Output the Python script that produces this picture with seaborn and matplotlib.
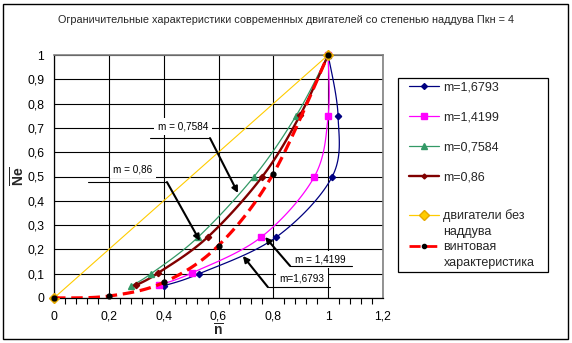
import numpy as np
import pandas as pd
import matplotlib
matplotlib.use("Agg")
import matplotlib.pyplot as plt
import seaborn as sns
from matplotlib.lines import Line2D
from matplotlib.patches import Rectangle
from matplotlib.ticker import MultipleLocator

# ---------------- data ----------------
n_16793 = [0.40, 0.53, 0.81, 1.015, 1.036, 1.0]
ne_16793 = [0.05, 0.10, 0.25, 0.50, 0.75, 1.0]
n_14199 = [0.383, 0.503, 0.755, 0.949, 1.0, 1.0]
ne_14199 = [0.053, 0.103, 0.25, 0.498, 0.75, 1.0]
n_07584 = [0.281, 0.354, 0.525, 0.73, 0.883, 1.0]
ne_07584 = [0.05, 0.10, 0.25, 0.50, 0.75, 1.0]
n_086 = [0.30, 0.38, 0.56, 0.76, 0.898, 1.0]
ne_086 = [0.053, 0.103, 0.25, 0.50, 0.753, 1.0]
n_free = [0.0, 1.0]
ne_free = [0.0, 1.0]
n_screw = [0.0, 0.2, 0.4, 0.6, 0.8, 1.0]
ne_screw = [0.0, 0.008, 0.064, 0.216, 0.512, 1.0]

series_labels = ["m=1,6793", "m=1,4199", "m=0,7584", "m=0,86",
                 "двигатели без", "наддува", "винтовая", "характеристика"]
x_ticks = [0.0, 0.2, 0.4, 0.6, 0.8, 1.0, 1.2]
x_tick_labels = ["0", "0,2", "0,4", "0,6", "0,8", "1", "1,2"]
y_ticks = [0.0, 0.1, 0.2, 0.3, 0.4, 0.5, 0.6, 0.7, 0.8, 0.9, 1.0]
y_tick_labels = ["0", "0,1", "0,2", "0,3", "0,4", "0,5", "0,6", "0,7", "0,8", "0,9", "1"]
title = "Ограничительные характеристики современных двигателей со степенью наддува Пкн = 4"
ann_texts = ["m = 0,7584", "m = 0,86", "m = 1,4199", "m=1,6793"]

# ---------------- style ----------------
sns.set_style("white")
plt.rcParams["font.family"] = ["Liberation Sans", "DejaVu Sans"]
plt.rcParams["mathtext.fontset"] = "custom"
plt.rcParams["mathtext.bf"] = "Liberation Sans:bold"
plt.rcParams["mathtext.rm"] = "Liberation Sans"

W, H = 572, 343
fig = plt.figure(figsize=(W / 100, H / 100), dpi=100)
ax = fig.add_axes([54 / W, 1 - 298 / H, (383 - 54) / W, (298 - 55) / H])


def smooth(x, y, n=24):
    """Excel-like smoothed line (uniform Catmull-Rom) through the points."""
    p = np.column_stack([x, y]).astype(float)
    P = np.vstack([p[0], p, p[-1]])
    out = []
    t = np.linspace(0, 1, n)[:, None]
    for i in range(len(p) - 1):
        p0, p1, p2, p3 = P[i], P[i + 1], P[i + 2], P[i + 3]
        seg = 0.5 * ((2 * p1) + (-p0 + p2) * t + (2 * p0 - 5 * p1 + 4 * p2 - p3) * t ** 2
                     + (-p0 + 3 * p1 - 3 * p2 + p3) * t ** 3)
        out.append(seg if i == 0 else seg[1:])
    s = np.vstack(out)
    return s[:, 0], s[:, 1]


specs = [
    (n_16793, ne_16793, "#000080", 0.9, "D", 3.2, "-", True),
    (n_14199, ne_14199, "#FF00FF", 0.9, "s", 4.0, "-", True),
    (n_07584, ne_07584, "#339966", 0.9, "^", 4.5, "-", True),
    (n_086, ne_086, "#800000", 1.7, "D", 3.2, "-", True),
    (n_free, ne_free, "#FFCC00", 0.8, "D", 5.0, "-", False),
]
for xs, ys, col, lw, mk, ms, ls, sm in specs:
    if sm:
        sx, sy = smooth(xs, ys)
    else:
        sx, sy = np.asarray(xs), np.asarray(ys)
    sns.lineplot(x=sx, y=sy, sort=False, estimator=None, color=col, lw=lw, ax=ax, zorder=3)
    ax.plot(xs, ys, ls="none", marker=mk, ms=ms, color=col,
            mec=("#E6A800" if col == "#FFCC00" else col), zorder=4, clip_on=False)

sx, sy = smooth(n_screw, ne_screw)
sns.lineplot(x=sx, y=sy, sort=False, estimator=None, color="#FF0000", lw=2.3, ax=ax, zorder=5,
             dashes=False)
ax.lines[-1].set_dashes((3.6, 1.8))
ax.plot(n_screw, ne_screw, ls="none", marker="o", ms=3.5, color="black", zorder=6, clip_on=False)

# ---------------- axes ----------------
ax.set_xlim(0, 1.2)
ax.set_ylim(0, 1.0)
ax.set_xticks(x_ticks)
ax.set_xticklabels(x_tick_labels)
ax.set_yticks(y_ticks)
ax.set_yticklabels(y_tick_labels)
ax.xaxis.set_minor_locator(MultipleLocator(0.04))
ax.tick_params(axis="both", which="major", direction="out", length=4, width=0.8,
               color="black", labelsize=8.7, labelcolor="black")
ax.tick_params(axis="x", which="major", pad=5)
ax.tick_params(axis="y", which="major", pad=3)
ax.tick_params(axis="x", which="minor", direction="out", length=4, width=0.8, color="black",
               bottom=True)
ax.grid(True, which="major", color="black", lw=0.8)
ax.set_axisbelow(True)
for s in ["left", "bottom"]:
    ax.spines[s].set_color("black")
    ax.spines[s].set_linewidth(0.9)
for s in ["top", "right"]:
    ax.spines[s].set_color("#808080")
    ax.spines[s].set_linewidth(1.2)
ax.set_xlabel(r"$\overline{\mathbf{n}}$", fontsize=10, labelpad=0)
ax.set_ylabel(r"$\overline{\mathbf{Ne}}$", fontsize=10, labelpad=0)

fig.text(286 / W, 1 - 20 / H, title, ha="center", va="center", fontsize=7.8)

# ---------------- annotations ----------------
# (text centre, underline start, underline end, leader start, arrow tip)
ann_pos = [
    ((0.470, 0.704), (0.350, 0.658), (0.569, 0.658), (0.569, 0.658), (0.671, 0.432)),
    ((0.288, 0.527), (0.124, 0.477), (0.412, 0.477), (0.412, 0.477), (0.532, 0.235)),
    ((0.970, 0.160), (0.861, 0.132), (1.087, 0.132), (0.861, 0.132), (0.770, 0.251)),
    ((0.904, 0.082), (0.780, 0.045), (1.007, 0.045), (0.780, 0.045), (0.689, 0.173)),
]
for txt, (tc, u0, u1, l0, tip) in zip(ann_texts, ann_pos):
    ax.text(tc[0], tc[1], txt, ha="center", va="center", fontsize=7.2, color="black",
            bbox=dict(fc="white", ec="none", pad=2.5), zorder=7)
    ax.plot([u0[0], u1[0]], [u0[1], u1[1]], color="black", lw=0.8, zorder=8)
    ax.annotate("", xy=tip, xytext=l0,
                arrowprops=dict(arrowstyle="-|>", color="black", lw=1.5, mutation_scale=9,
                                shrinkA=0, shrinkB=0), zorder=8)

# ---------------- legend ----------------
h1 = [Line2D([], [], color="#000080", lw=0.9, marker="D", ms=3),
      Line2D([], [], color="#FF00FF", lw=0.9, marker="s", ms=4),
      Line2D([], [], color="#339966", lw=0.9, marker="^", ms=4.5),
      Line2D([], [], color="#800000", lw=1.7, marker="D", ms=2.5)]
leg1 = ax.legend(handles=h1, labels=series_labels[:4], loc="upper left",
                 bbox_to_anchor=(409 / W, 1 - 81 / H), bbox_transform=fig.transFigure,
                 frameon=False, fontsize=9, handlelength=2.4, handletextpad=0.35,
                 labelspacing=1.45, borderpad=0, borderaxespad=0)
ax.add_artist(leg1)
h2 = [Line2D([], [], color="#FFCC00", lw=0.9, marker="D", ms=5, mec="#E6A800"),
      Line2D([], [], color="none"),
      Line2D([], [], color="#FF0000", lw=2.0, dashes=(4, 2), marker="o", ms=3,
             mfc="black", mec="black"),
      Line2D([], [], color="none")]
leg2 = ax.legend(handles=h2, labels=series_labels[4:], loc="upper left",
                 bbox_to_anchor=(409 / W, 1 - 209 / H), bbox_transform=fig.transFigure,
                 frameon=False, fontsize=9, handlelength=2.4, handletextpad=0.35,
                 labelspacing=0.3, borderpad=0, borderaxespad=0)

fig.add_artist(Rectangle((398 / W, 1 - 272 / H), 150 / W, 194 / H, transform=fig.transFigure,
                         fill=False, ec="black", lw=0.9))
fig.add_artist(Rectangle((3 / W, 1 - 339 / H), 565 / W, 335 / H, transform=fig.transFigure,
                         fill=False, ec="black", lw=1.0))

fig.savefig("out.png", dpi=100)
